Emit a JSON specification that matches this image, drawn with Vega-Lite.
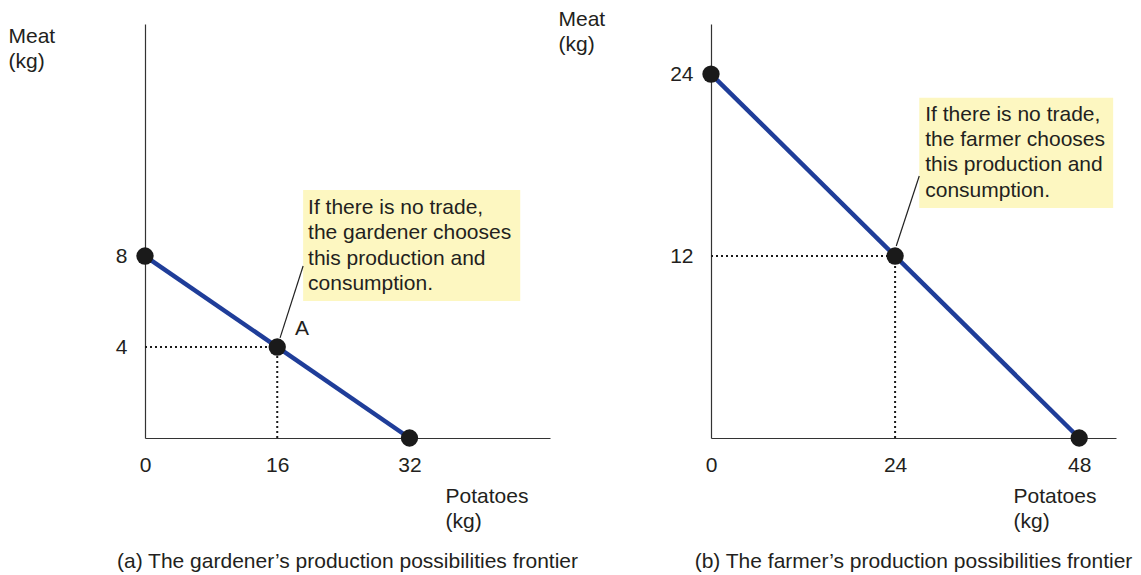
{
  "$schema": "https://vega.github.io/schema/vega-lite/v6.json",
  "padding": {"left": 8, "top": 8, "right": 0, "bottom": 0},
  "bounds": "flush",
  "spacing": 161,
  "config": {
    "view": {"stroke": null},
    "font": "Liberation Sans",
    "axis": {
      "grid": false, "ticks": false, "tickSize": 0, "labelFlush": false,
      "domainColor": "#333333", "domainWidth": 1.2,
      "labelFont": "Liberation Sans", "labelFontSize": 21, "labelColor": "#231f20",
      "titleFont": "Liberation Sans", "titleFontSize": 21, "titleFontWeight": "normal", "titleColor": "#231f20",
      "titleAngle": 0, "titleAlign": "left", "titleBaseline": "alphabetic", "titleLineHeight": 25
    },
    "title": {"font": "Liberation Sans", "fontSize": 21, "fontWeight": "normal", "color": "#231f20", "orient": "bottom", "anchor": "middle"}
  },
  "datasets": {
    "frontA": [{"x": 0, "y": 8}, {"x": 32, "y": 0}],
    "ptsA": [{"x": 0, "y": 8}, {"x": 16, "y": 4}, {"x": 32, "y": 0}],
    "dotA": [{"x": 0, "y": 4, "x2": 16, "y2": 4}, {"x": 16, "y": 0, "x2": 16, "y2": 4}],
    "boxA": [{"x": 19.13, "x2": 45.4, "y": 10.9, "y2": 6.02}],
    "leadA": [{"x": 19.13, "y": 7.56, "x2": 16.34, "y2": 4.4}],
    "noteA": [{"x": 19.73, "y": 9.85, "label": "If there is no trade,\nthe gardener chooses\nthis production and\nconsumption."}],
    "ptLabelA": [{"x": 19.0, "y": 4.79, "label": "A"}],
    "frontB": [{"x": 0, "y": 24}, {"x": 48, "y": 0}],
    "ptsB": [{"x": 0, "y": 24}, {"x": 24, "y": 12}, {"x": 48, "y": 0}],
    "dotB": [{"x": 0, "y": 12, "x2": 24, "y2": 12}, {"x": 24, "y": 0, "x2": 24, "y2": 12}],
    "boxB": [{"x": 27.15, "x2": 52.43, "y": 22.43, "y2": 15.17}],
    "leadB": [{"x": 27.15, "y": 17.28, "x2": 24.15, "y2": 12.66}],
    "noteB": [{"x": 27.93, "y": 20.91, "label": "If there is no trade,\nthe farmer chooses\nthis production and\nconsumption."}]
  },
  "hconcat": [
    {
      "width": 405, "height": 414,
      "title": {"text": "(a) The gardener’s production possibilities frontier", "offset": 20},
      "encoding": {
        "x": {"field": "x", "type": "quantitative", "scale": {"domain": [0, 49], "nice": false, "zero": false},
              "axis": {"values": [0, 16, 32], "labelPadding": 33, "labelBaseline": "alphabetic", "title": ["Potatoes", "(kg)"], "titleX": 300, "titleY": 64}},
        "y": {"field": "y", "type": "quantitative", "scale": {"domain": [0, 18.2], "nice": false, "zero": false},
              "axis": {"values": [4, 8], "labelPadding": 18, "title": ["Meat", "(kg)"], "titleX": -137, "titleY": 18}}
      },
      "layer": [
        {"data": {"name": "boxA"}, "mark": {"type": "rect", "color": "#fdf7c1"}, "encoding": {"x2": {"field": "x2"}, "y2": {"field": "y2"}}},
        {"data": {"name": "leadA"}, "mark": {"type": "rule", "color": "#222222", "strokeWidth": 1.2}, "encoding": {"x2": {"field": "x2"}, "y2": {"field": "y2"}}},
        {"data": {"name": "dotA"}, "mark": {"type": "rule", "color": "#1a1a1a", "strokeWidth": 2, "strokeDash": [2, 3]}, "encoding": {"x2": {"field": "x2"}, "y2": {"field": "y2"}}},
        {"data": {"name": "frontA"}, "mark": {"type": "line", "color": "#1f3d99", "strokeWidth": 4.5}, "encoding": {}},
        {"data": {"name": "ptsA"}, "mark": {"type": "point", "filled": true, "shape": "circle", "size": 300, "color": "#1a1a1a", "opacity": 1}, "encoding": {}},
        {"data": {"name": "noteA"}, "mark": {"type": "text", "align": "left", "baseline": "alphabetic", "fontSize": 21, "lineBreak": "\n", "lineHeight": 25.3, "color": "#231f20"}, "encoding": {"text": {"field": "label"}}},
        {"data": {"name": "ptLabelA"}, "mark": {"type": "text", "align": "center", "baseline": "middle", "fontSize": 21, "color": "#231f20"}, "encoding": {"text": {"field": "label"}}}
      ]
    },
    {
      "width": 405, "height": 414,
      "title": {"text": "(b) The farmer’s production possibilities frontier", "offset": 20},
      "encoding": {
        "x": {"field": "x", "type": "quantitative", "scale": {"domain": [0, 52.8], "nice": false, "zero": false},
              "axis": {"values": [0, 24, 48], "labelPadding": 33, "labelBaseline": "alphabetic", "title": ["Potatoes", "(kg)"], "titleX": 302, "titleY": 64}},
        "y": {"field": "y", "type": "quantitative", "scale": {"domain": [0, 27.3], "nice": false, "zero": false},
              "axis": {"values": [12, 24], "labelPadding": 18, "title": ["Meat", "(kg)"], "titleX": -153, "titleY": 1}}
      },
      "layer": [
        {"data": {"name": "boxB"}, "mark": {"type": "rect", "color": "#fdf7c1"}, "encoding": {"x2": {"field": "x2"}, "y2": {"field": "y2"}}},
        {"data": {"name": "leadB"}, "mark": {"type": "rule", "color": "#222222", "strokeWidth": 1.2}, "encoding": {"x2": {"field": "x2"}, "y2": {"field": "y2"}}},
        {"data": {"name": "dotB"}, "mark": {"type": "rule", "color": "#1a1a1a", "strokeWidth": 2, "strokeDash": [2, 3]}, "encoding": {"x2": {"field": "x2"}, "y2": {"field": "y2"}}},
        {"data": {"name": "frontB"}, "mark": {"type": "line", "color": "#1f3d99", "strokeWidth": 4.5}, "encoding": {}},
        {"data": {"name": "ptsB"}, "mark": {"type": "point", "filled": true, "shape": "circle", "size": 300, "color": "#1a1a1a", "opacity": 1}, "encoding": {}},
        {"data": {"name": "noteB"}, "mark": {"type": "text", "align": "left", "baseline": "alphabetic", "fontSize": 21, "lineBreak": "\n", "lineHeight": 25.3, "color": "#231f20"}, "encoding": {"text": {"field": "label"}}}
      ]
    }
  ]
}
